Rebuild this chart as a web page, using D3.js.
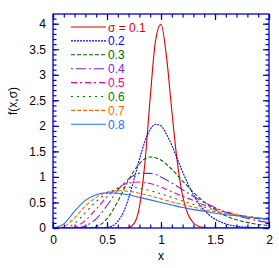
<!DOCTYPE html>
<html>
<head>
<meta charset="utf-8">
<script src="https://cdn.jsdelivr.net/npm/d3@7"></script>
<style>
  body { margin: 0; background: #fff; }
  text { font-family: "Liberation Sans", Arial, sans-serif; }
</style>
</head>
<body>
<div id="chart"></div>
<script>
var margin = {top: 14, right: 10, bottom: 40, left: 53},
    width = 279 - margin.left - margin.right,
    height = 268 - margin.top - margin.bottom;

// x grids the curves were read at
var xCoarse = [0, 0.1, 0.2, 0.3, 0.4, 0.5, 0.6, 0.7, 0.8, 0.9, 1.0,
               1.1, 1.2, 1.3, 1.4, 1.5, 1.6, 1.7, 1.8, 1.9, 2.0];
var xFine = [0.5, 0.55, 0.6, 0.65, 0.7, 0.75, 0.8, 0.85, 0.9, 0.95, 1.0,
             1.05, 1.1, 1.15, 1.2, 1.25, 1.3, 1.35, 1.4, 1.45, 1.5];

var sigmaLabels = ["\u03c3 = 0.1", "0.2", "0.3", "0.4", "0.5", "0.6", "0.7", "0.8"];
var colors = ["#e00000", "#0000ff", "#006400", "#7a1fe0", "#ff0080", "#008000", "#ff6600", "#1e6fff"];
var dashes = [null, "2,1", "4,2", "2,3,10,3", "6,3,2,3", "2,4", "4,2", null];

// f(x,σ)
var ySigma01 = [0, 0, 0, 0, 0.01, 0.085, 0.41, 1.25, 2.55, 3.68, 3.99,
                3.37, 2.3, 1.31, 0.63, 0.27, 0.1, 0.03, 0.01, 0, 0];
var ySigma02 = [0.01, 0.04, 0.13, 0.3, 0.58, 0.95, 1.34, 1.69, 1.93, 2.03, 2.0,
                1.84, 1.62, 1.36, 1.1, 0.86, 0.65, 0.48, 0.35, 0.25, 0.17];
var ySigma02Tail = [0.08, 0.035, 0.015, 0.006, 0.002]; // x = 1.6 .. 2.0
var ySigma03 = [0, 0, 0, 0, 0.03, 0.18, 0.52, 0.94, 1.26, 1.39, 1.33,
                1.15, 0.92, 0.7, 0.51, 0.36, 0.24, 0.16, 0.11, 0.07, 0.05];
var ySigma04 = [0, 0, 0, 0.04, 0.18, 0.44, 0.74, 0.96, 1.07, 1.07, 1.0,
                0.88, 0.75, 0.62, 0.5, 0.4, 0.31, 0.24, 0.19, 0.14, 0.11];
var ySigma05 = [0, 0, 0.02, 0.15, 0.37, 0.61, 0.79, 0.88, 0.9, 0.87, 0.8,
                0.71, 0.62, 0.54, 0.45, 0.38, 0.32, 0.27, 0.22, 0.18, 0.15];
var ySigma06 = [0, 0, 0.09, 0.3, 0.52, 0.68, 0.77, 0.8, 0.78, 0.73, 0.67,
                0.6, 0.53, 0.46, 0.41, 0.35, 0.31, 0.26, 0.23, 0.2, 0.17];
var ySigma07 = [0, 0.03, 0.2, 0.43, 0.6, 0.7, 0.73, 0.72, 0.68, 0.63, 0.57,
                0.51, 0.46, 0.41, 0.36, 0.32, 0.28, 0.25, 0.22, 0.2, 0.17];
var ySigma08 = [0, 0.08, 0.33, 0.54, 0.65, 0.69, 0.68, 0.65, 0.6, 0.55, 0.5,
                0.45, 0.4, 0.36, 0.33, 0.29, 0.26, 0.24, 0.21, 0.19, 0.17];

var xTail = [1.6, 1.7, 1.8, 1.9, 2.0];

function zipXY(xs, ys) {
  return xs.map(function(x, i) { return [x, ys[i]]; });
}

var series = [
  [[0, 0]].concat(zipXY(xFine, ySigma01), [[2, 0]]),
  [[0, 0], [0.45, 0]].concat(zipXY(xFine, ySigma02).slice(0, -1), zipXY(xTail, ySigma02Tail)),
  zipXY(xCoarse, ySigma03),
  zipXY(xCoarse, ySigma04),
  zipXY(xCoarse, ySigma05),
  zipXY(xCoarse, ySigma06),
  zipXY(xCoarse, ySigma07),
  zipXY(xCoarse, ySigma08)
];

var svg = d3.select("#chart")
            .append("svg")
            .attr("width", 279)
            .attr("height", 268);

var g = svg.append("g")
           .attr("transform", "translate(" + margin.left + "," + margin.top + ")");

var x = d3.scaleLinear().domain([0, 2]).range([0, width]);
var y = d3.scaleLinear().domain([0, 4.19]).range([height, 0]);

var axisColor = "#0000c8";

g.append("clipPath").attr("id", "clip")
  .append("rect").attr("width", width).attr("height", height);

// curves
var line = d3.line()
             .x(function(d) { return x(d[0]); })
             .y(function(d) { return y(Math.max(d[1], 0)); })
             .curve(d3.curveMonotoneX);

g.append("g")
  .attr("clip-path", "url(#clip)")
  .selectAll("path")
  .data(series)
  .enter().append("path")
  .attr("d", line)
  .attr("fill", "none")
  .attr("stroke", function(d, i) { return colors[i]; })
  .attr("stroke-width", 1.1)
  .attr("stroke-dasharray", function(d, i) { return dashes[i]; });

// axes: majors with labels, minors without, ticks inward on all sides
var xMajor = d3.range(0, 2.01, 0.5), xMinor = d3.range(0, 2.01, 0.1);
var yMajor = d3.range(0, 4.01, 0.5), yMinor = d3.range(0, 4.15, 0.1);

function styleAxis(sel) {
  sel.select(".domain").remove();
  sel.selectAll("line").attr("stroke", axisColor).attr("stroke-width", 1.2);
  sel.selectAll("text").attr("fill", "#000").style("font-size", "12px")
     .style("font-family", "'Liberation Sans', Arial, sans-serif");
}

var fmt = function(d) { return d3.format("")(+d.toFixed(1)); };

g.append("g").attr("transform", "translate(0," + height + ")")
  .call(d3.axisBottom(x).tickValues(xMajor).tickSize(-6).tickPadding(7).tickFormat(fmt))
  .call(styleAxis);
g.append("g").attr("transform", "translate(0," + height + ")")
  .call(d3.axisBottom(x).tickValues(xMinor).tickSize(-3.5).tickFormat(""))
  .call(styleAxis);
g.append("g")
  .call(d3.axisTop(x).tickValues(xMajor).tickSize(-6).tickFormat(""))
  .call(styleAxis);
g.append("g")
  .call(d3.axisTop(x).tickValues(xMinor).tickSize(-3.5).tickFormat(""))
  .call(styleAxis);

g.append("g")
  .call(d3.axisLeft(y).tickValues(yMajor).tickSize(-6).tickPadding(7).tickFormat(fmt))
  .call(styleAxis);
g.append("g")
  .call(d3.axisLeft(y).tickValues(yMinor).tickSize(-3.5).tickFormat(""))
  .call(styleAxis);
g.append("g").attr("transform", "translate(" + width + ",0)")
  .call(d3.axisRight(y).tickValues(yMajor).tickSize(-6).tickFormat(""))
  .call(styleAxis);
g.append("g").attr("transform", "translate(" + width + ",0)")
  .call(d3.axisRight(y).tickValues(yMinor).tickSize(-3.5).tickFormat(""))
  .call(styleAxis);

// frame
g.append("rect")
  .attr("width", width).attr("height", height)
  .attr("fill", "none").attr("stroke", axisColor).attr("stroke-width", 1.3);

// axis titles
g.append("text")
  .attr("x", x(1)).attr("y", height + 32)
  .attr("text-anchor", "middle")
  .style("font-size", "12px")
  .text("x");

svg.append("text")
  .attr("transform", "translate(17,101) rotate(-90)")
  .attr("text-anchor", "middle")
  .style("font-size", "12px")
  .text("f(x,\u03c3)");

// legend
var legendItem = g.append("g")
  .attr("transform", "translate(18,13)")
  .selectAll("g")
  .data(sigmaLabels)
  .enter().append("g")
  .attr("transform", function(d, i) { return "translate(0," + (i * 13.9) + ")"; });

legendItem.append("line")
  .attr("x1", 0).attr("x2", 35)
  .attr("stroke", function(d, i) { return colors[i]; })
  .attr("stroke-width", 1.1)
  .attr("stroke-dasharray", function(d, i) { return dashes[i]; });

legendItem.append("text")
  .attr("x", 37).attr("y", 4.5)
  .attr("fill", function(d, i) { return colors[i]; })
  .style("font-size", "12px")
  .text(function(d) { return d; });
</script>
</body>
</html>
